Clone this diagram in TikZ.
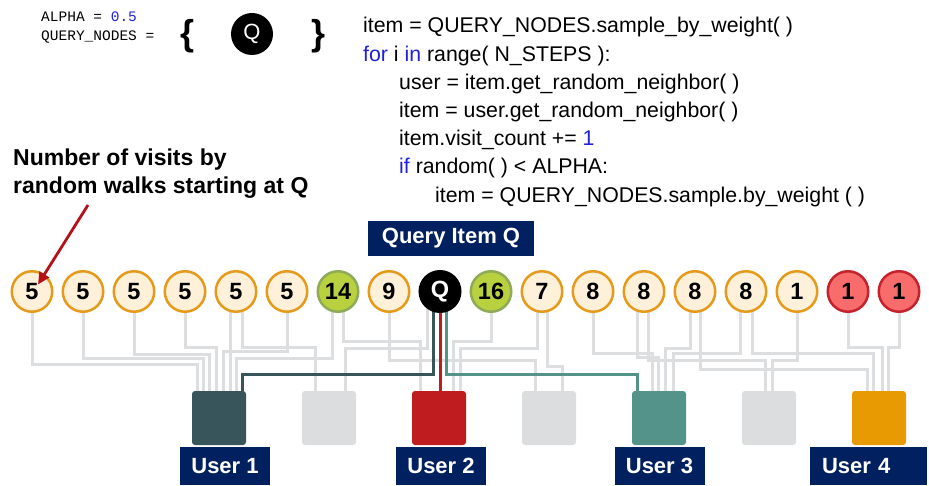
\documentclass[tikz,border=0pt]{standalone}
\usepackage{fontspec}
\setmainfont{Liberation Sans}
\setmonofont{Liberation Mono}
\usetikzlibrary{calc, arrows.meta, backgrounds}

% Orthogonal wire: [style]{item}{x offset}{level}{user box}{x offset}
\newcommand{\wire}[6][wire]{%
  \draw[#1] let \p1=(#2.center), \p2=(#5.north) in
    ({\x1+#3pt},\y1) -- ({\x1+#3pt},{-#4pt}) -- ({\x2+#6pt},{-#4pt}) -- ({\x2+#6pt},\y2);}

\begin{document}
\begin{tikzpicture}[x=1pt, y=-1pt,
    itemBase/.style={circle, minimum size=40.5, inner sep=0, line width=2.5,
      font=\bfseries\fontsize{23.5}{23.5}\selectfont},
    itemPlain/.style={itemBase, draw=plainBorder, fill=plainFill},
    itemHot/.style={itemBase, draw=hotBorder, fill=hotFill},
    itemCold/.style={itemBase, draw=coldBorder, fill=coldFill},
    itemQuery/.style={itemBase, draw=black, fill=black, text=white},
    ubox/.style={rectangle, rounded corners=3, minimum size=54, inner sep=0},
    tag/.style={fill=navy, text=white, inner sep=0, minimum height=38,
      font=\bfseries\fontsize{22}{26}\selectfont},
    code/.style={inner sep=0, anchor=base west, font=\fontsize{21.3}{25}\selectfont},
    mono/.style={inner sep=0, anchor=base west, font=\ttfamily\fontsize{14.5}{17}\selectfont},
    note/.style={inner sep=0, anchor=base west, font=\bfseries\fontsize{23}{27}\selectfont},
    wire/.style={draw=wireGrey, line width=3},
    darkWire/.style={draw=userDark, line width=3},
    redWire/.style={draw=userRed, line width=3},
    tealWire/.style={draw=userTeal, line width=3},
    pointer/.style={draw=arrowRed, line width=2.8, -{Triangle[length=12pt,width=11pt]}}
  ]
    % Define colours
    \definecolor{plainBorder}{HTML}{E59A1B}
    \definecolor{plainFill}{HTML}{FEF0D9}
    \definecolor{hotBorder}{HTML}{8FAA59}
    \definecolor{hotFill}{HTML}{B9D03F}
    \definecolor{coldBorder}{HTML}{C4222C}
    \definecolor{coldFill}{HTML}{F86C6C}
    \definecolor{wireGrey}{HTML}{DDDEE0}
    \definecolor{userDark}{HTML}{38555B}
    \definecolor{userRed}{HTML}{BE1C1E}
    \definecolor{userTeal}{HTML}{53938A}
    \definecolor{userOrange}{HTML}{E79A02}
    \definecolor{userGrey}{HTML}{DCDDDF}
    \definecolor{navy}{HTML}{00205F}
    \definecolor{codeBlue}{HTML}{1F1FE0}
    \definecolor{arrowRed}{HTML}{B3121A}

    \useasboundingbox (0,0) rectangle (929,486);

    % Query set
    \node[mono] (alpha) at (41,22) {ALPHA = \textcolor{codeBlue}{0.5}};
    \node[mono] (qnodes) at (41,41) {QUERY\_NODES =};
    \node[inner sep=0, font=\bfseries\fontsize{36}{36}\selectfont] (lbrace) at (188,36) {\{};
    \node[circle, fill=black, minimum size=42, inner sep=0, text=white,
      font=\fontsize{22}{22}\selectfont] (qtop) at (252,34) {Q};
    \node[inner sep=0, font=\bfseries\fontsize{36}{36}\selectfont] (rbrace) at (319,36) {\}};

    % Pseudo code
    \node[code] (c1) at (363,33) {item = QUERY\_NODES.sample\_by\_weight( )};
    \node[code] (c2) at (363,61.2) {\textcolor{codeBlue}{for} i \textcolor{codeBlue}{in} range( N\_STEPS ):};
    \node[code] (c3) at (399,89.4) {user = item.get\_random\_neighbor( )};
    \node[code] (c4) at (399,117.6) {item = user.get\_random\_neighbor( )};
    \node[code] (c5) at (399,145.8) {item.visit\_count += \textcolor{codeBlue}{1}};
    \node[code] (c6) at (399,174) {\textcolor{codeBlue}{if} random( ) < ALPHA:};
    \node[code] (c7) at (435,202.2) {item = QUERY\_NODES.sample.by\_weight ( )};

    % Annotation
    \node[note] (note1) at (13,166) {Number of visits by};
    \node[note] (note2) at (13,194) {random walks starting at Q};

    % Query label
    \node[tag, minimum width=166, minimum height=35] (qlabel) at (451,238.5) {Query Item Q};

    % Items with visit counts
    \foreach \v/\s [count=\i from 0] in {5/itemPlain, 5/itemPlain, 5/itemPlain, 5/itemPlain,
        5/itemPlain, 5/itemPlain, 14/itemHot, 9/itemPlain, Q/itemQuery, 16/itemHot,
        7/itemPlain, 8/itemPlain, 8/itemPlain, 8/itemPlain, 8/itemPlain, 1/itemPlain,
        1/itemCold, 1/itemCold}
        \node[\s] (i\i) at ({32+51*\i},291.5) {\v};

    % Users
    \node[ubox, fill=userDark] (u1) at (219,418) {};
    \node[ubox, fill=userGrey] (u2) at (329,418) {};
    \node[ubox, fill=userRed] (u3) at (439,418) {};
    \node[ubox, fill=userGrey] (u4) at (549,418) {};
    \node[ubox, fill=userTeal] (u5) at (659,418) {};
    \node[ubox, fill=userGrey] (u6) at (769,418) {};
    \node[ubox, fill=userOrange] (u7) at (879,418) {};

    \node[tag, minimum width=90] (lab1) at (225,466) {User 1};
    \node[tag, minimum width=90] (lab2) at (441,466) {User 2};
    \node[tag, minimum width=90] (lab3) at (659.5,466) {User 3};
    \node[tag, text width=93, align=left, inner xsep=12] (lab4) at (868.5,466) {User 4};

    % Edges between items and users
    \begin{pgfonlayer}{background}
        \foreach \a/\da/\h/\b/\db in {0/0/364/u1/-22, 1/0/358/u1/-16, 2/0/354/u1/-10,
            3/0/347/u1/-3, 5/0/351/u1/4, 4/-6/380/u1/11, 6/-6/358/u1/17,
            4/6/347/u2/-14, 8/-13/348/u2/16,
            6/5/341/u3/-19, 9/0/341/u3/14, 10/-5/348/u3/21,
            7/0/360/u4/-14, 10/5/366/u4/13,
            11/0/353/u5/-7, 12/-7/357/u5/-1, 13/-5/348/u5/6, 14/-6/353/u5/14,
            12/4/360/u6/-4, 15/0/360/u6/3,
            13/5/369/u7/-12, 14/6/353/u7/-6, 16/0/347/u7/3, 17/0/347/u7/9}
            \wire{i\a}{\da}{\h}{\b}{\db};

        % Walk steps from Q
        \wire[darkWire]{i8}{-7}{374}{u1}{23}
        \wire[redWire]{i8}{0}{380}{u3}{1}
        \wire[tealWire]{i8}{6}{374}{u5}{-22}
    \end{pgfonlayer}

    % Pointer to the first count
    \coordinate (tail) at (88,205);
    \draw[pointer] (tail) -- ($(i0.center)+(6,-7)$);

\end{tikzpicture}
\end{document}
